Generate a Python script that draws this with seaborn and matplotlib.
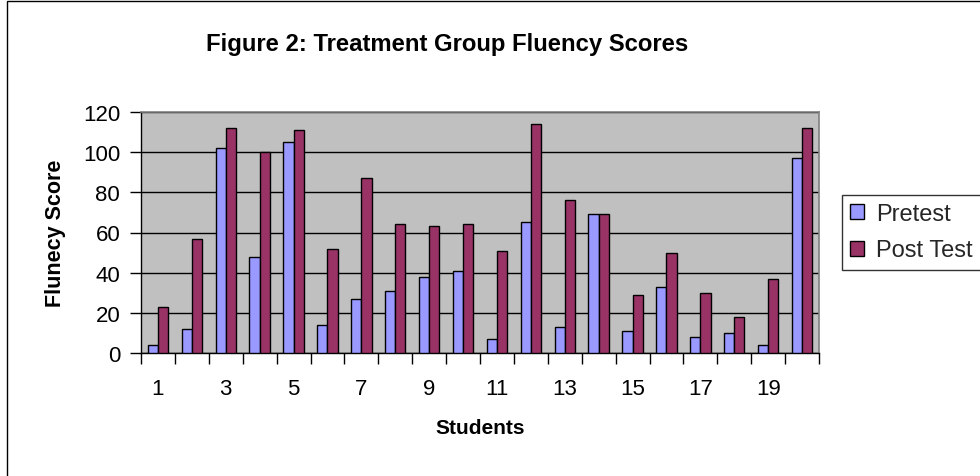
import numpy as np
import pandas as pd
import seaborn as sns
import matplotlib.pyplot as plt
from matplotlib.patches import Rectangle, Patch
from matplotlib.ticker import FixedLocator, NullFormatter

# Fluency scores per student
students = list(range(1, 21))
pretest = [4, 12, 102, 48, 105, 14, 27, 31, 38, 41, 7, 65, 13, 69, 11, 33, 8, 10, 4, 97]
post_test = [23, 57, 112, 100, 111, 52, 87, 64, 63, 64, 51, 114, 76, 69, 29, 50, 30, 18, 37, 112]
series_names = ["Pretest", "Post Test"]
series_colors = ["#9999FF", "#993366"]

df = pd.DataFrame({
    "Student": students * 2,
    "Score": pretest + post_test,
    "Series": [series_names[0]] * len(students) + [series_names[1]] * len(students),
})

sns.set_theme(style="white")
plt.rcParams["font.family"] = ["Liberation Sans", "DejaVu Sans"]

W, H = 980, 477
fig = plt.figure(figsize=(W / 100, H / 100), dpi=100)
fig.patch.set_facecolor("white")

left, right, top, bottom = 141, 819, 113, 354
ax = fig.add_axes([left / W, 1 - bottom / H, (right - left) / W, (bottom - top) / H])
ax.set_facecolor("#C0C0C0")

sns.barplot(data=df, x="Student", y="Score", hue="Series", order=students,
            hue_order=series_names, palette=series_colors, width=0.6, gap=0,
            edgecolor="black", linewidth=1.0, saturation=1, ax=ax, legend=False,
            zorder=3)

ax.set_xlim(-0.5, len(students) - 0.5)
ax.set_ylim(0, 120)
ax.set_yticks(np.arange(0, 121, 20))
ax.yaxis.grid(True, color="black", linewidth=1.0, zorder=1)
ax.set_axisbelow(True)

# tick marks between categories, labels at every other category center
ax.xaxis.set_major_locator(FixedLocator(np.arange(-0.5, len(students), 1.0)))
ax.xaxis.set_major_formatter(NullFormatter())
ax.xaxis.set_minor_locator(FixedLocator(np.arange(0, len(students), 2)))
ax.set_xticklabels([str(s) for s in students[::2]], minor=True)
ax.tick_params(axis="x", which="major", direction="out", length=8, width=1,
               color="black", bottom=True)
ax.tick_params(axis="x", which="minor", length=0, pad=18, labelsize=16,
               labelcolor="black", bottom=True)
ax.tick_params(axis="y", direction="out", length=8, width=1, color="black",
               left=True, pad=7, labelsize=16, labelcolor="black")

for side in ["left", "bottom"]:
    ax.spines[side].set_color("black")
    ax.spines[side].set_linewidth(1.0)
for side in ["top", "right"]:
    ax.spines[side].set_color("#808080")
    ax.spines[side].set_linewidth(1.2)

ax.set_xlabel("Students", fontsize=15, fontweight="bold", color="black", labelpad=14)
ax.set_ylabel("Flunecy Score", fontsize=15.5, fontweight="bold", color="black", labelpad=12)

fig.text(447 / W, 1 - 44 / H, "Figure 2: Treatment Group Fluency Scores",
         ha="center", va="center", fontsize=17.2, fontweight="bold", color="black")

handles = [Patch(facecolor=c, edgecolor="black", linewidth=1.0) for c in series_colors]
leg = fig.legend(handles, series_names, loc="upper left",
                 bbox_to_anchor=(842 / W, 1 - 196 / H), fontsize=17,
                 frameon=True, fancybox=False, edgecolor="black",
                 handlelength=0.6, handleheight=0.6, handletextpad=0.5,
                 labelspacing=0.6, borderpad=0.35, borderaxespad=0)
leg.get_frame().set_linewidth(1.0)

# outer chart border
fig.add_artist(Rectangle((7 / W, -0.5), 2.0, 0.5 + 1 - 2 / H, transform=fig.transFigure,
                         fill=False, edgecolor="black", linewidth=1.0))

fig.savefig("out.png", dpi=100)
